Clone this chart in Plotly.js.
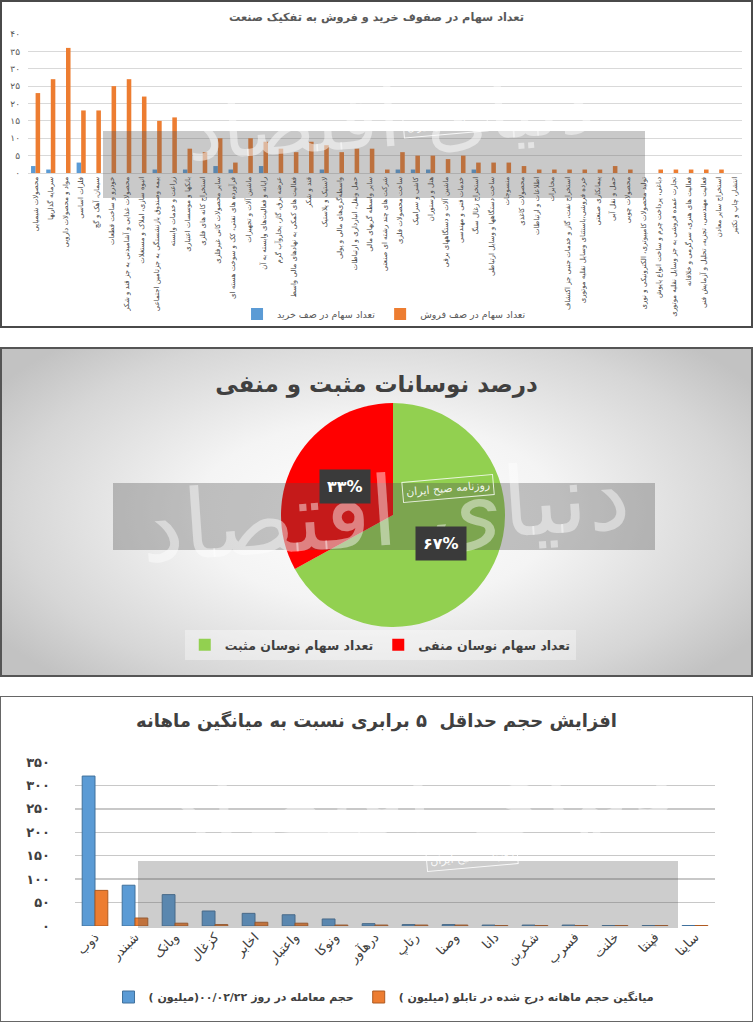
<!DOCTYPE html>
<html><head><meta charset="utf-8">
<script src="https://cdn.plot.ly/plotly-3.0.1.min.js"></script>
<style>
body{margin:0;background:#fff;width:753px;height:1024px;position:relative;overflow:hidden;font-family:"DejaVu Sans";}
.box{position:absolute;left:0;width:753px;}
.frame{position:absolute;left:0;width:753px;pointer-events:none;box-sizing:border-box;}
#c1{top:0;height:328px;}
#c2{top:347px;height:330px;background:radial-gradient(ellipse 60% 70% at 50% 50%, #ffffff 0%, #f4f4f4 40%, #d6d6d6 80%, #c2c2c2 100%);}
#c3{top:696px;height:326px;}
</style></head><body>
<div id="c1" class="box"></div>
<div class="frame" style="top:0;height:328px;border:2px solid #4a4a4a"></div>
<div id="c2" class="box"></div>
<div class="frame" style="top:347px;height:330px;border:2px solid #555"></div>
<div id="c3" class="box"></div>
<div class="frame" style="top:696px;height:326px;border:1.5px solid #666"></div>
<script>
// ---------- Chart 1 data ----------
const industries = [
"محصولات شیمیایی","سرمایه گذاریها","مواد و محصولات دارویی","فلزات اساسی","سیمان، آهک و گچ",
"خودرو و ساخت قطعات","محصولات غذایی و آشامیدنی به جز قند و شکر","انبوه سازی، املاک و مستغلات",
"بیمه وصندوق بازنشستگی به جزتامین اجتماعی","زراعت و خدمات وابسته","بانکها و موسسات اعتباری",
"استخراج کانه های فلزی","سایر محصولات کانی غیرفلزی","فرآورده های نفتی، کک و سوخت هسته ای",
"ماشین آلات و تجهیزات","رایانه و فعالیت‌های وابسته به آن","عرضه برق، گاز، بخاروآب گرم",
"فعالیت های کمکی به نهادهای مالی واسط","قند و شکر","لاستیک و پلاستیک","واسطه‌گری‌های مالی و پولی",
"حمل ونقل، انبارداری و ارتباطات","سایر واسطه گریهای مالی","شرکت های چند رشته ای صنعتی",
"ساخت محصولات فلزی","کاشی و سرامیک","هتل و رستوران","ماشین آلات و دستگاههای برقی",
"خدمات فنی و مهندسی","استخراج زغال سنگ","ساخت دستگاهها و وسایل ارتباطی","منسوجات",
"محصولات کاغذی","اطلاعات و ارتباطات","مخابرات","استخراج نفت، گاز و خدمات جنبی جز اکتشاف",
"خرده فروشی،باستثنای وسایل نقلیه موتوری","پیمانکاری صنعتی","حمل و نقل آبی","محصولات چوبی",
"تولید محصولات کامپیوتری، الکترونیکی و نوری","دباغی، پرداخت چرم و ساخت انواع پاپوش",
"تجارت عمده فروشی به جز وسایل نقلیه موتوری","فعالیت های هنری، سرگرمی و خلاقانه",
"فعالیت مهندسی، تجزیه، تحلیل و آزمایش فنی","استخراج سایر معادن","انتشار، چاپ و تکثیر"
];
const sellQueue = [23,27,36,18,18,25,27,22,15,16,7,6,10,3,10,9,7,6,9,8,6,7,7,1,6,5,5,4,5,3,3,3,2,1,1,1,1,1,2,1,0,1,1,1,1,1,0];
const buyQueue  = [2,1,0,3,0,0,0,0,1,0,1,0,2,1,0,2,0,0,0,1,0,0,0,0,1,1,1,0,0,1,0,0,0,0,0,0,0,0,0,0,0,0,0,0,0,0,0];
const c1TickVals = [0,5,10,15,20,25,30,35,40];
const c1TickText = ["۰","۵","۱۰","۱۵","۲۰","۲۵","۳۰","۳۵","۴۰"];
const c1Title = "تعداد سهام در صفوف خرید و فروش به تفکیک صنعت";
const c1SeriesNames = ["تعداد سهام در صف خرید","تعداد سهام در صف فروش"];

// ---------- Chart 2 data ----------
const pieLabels = ["تعداد سهام نوسان مثبت","تعداد سهام نوسان منفی"];
const pieValues = [67,33];
const pieText = ["۶۷%","۳۳%"];
const c2Title = "درصد نوسانات مثبت و منفی";

// ---------- Chart 3 data ----------
const tickers = ["ذوب","شبندر","وبانک","کزغال","اخابر","واعتبار","ونوکا","درهآور","رتاپ","وصنا","دانا","شکربن","فسرب","خلنت","فپنتا","ساینا"];
const volDay = [320,87,67,32,27,24,15,5,3,3,2,2,2,1,1,1];
const volAvg = [76,17,6,3,8,6,2,2,2,2,1,1,1,1,1,1];
const c3TickVals = [0,50,100,150,200,250,300,350];
const c3TickText = ["۰","۵۰","۱۰۰","۱۵۰","۲۰۰","۲۵۰","۳۰۰","۳۵۰"];
const c3Title = "افزایش حجم حداقل  ۵ برابری نسبت به میانگین ماهانه";
const c3SeriesNames = ["حجم معامله در روز ۰۰/۰۲/۲۲(میلیون )","میانگین حجم ماهانه درج شده در تابلو (میلیون )"];

const BLUE = "#5B9BD5", ORANGE = "#ED7D31";
const FONT = "DejaVu Sans";
const rtl = s => "\u202B" + s + "\u202C";
const cfg = {staticPlot:true, displayModeBar:false};
function conv(W,H,m){ return {x: p => (p-m.l)/(W-m.l-m.r), y: p => (H-m.b-p)/(H-m.t-m.b)}; }
const WM = "دنیای اقتصاد", WM2 = "روزنامه صبح ایران";

// ================= Chart 1 =================
(function(){
  const W=753,H=328,m={l:28,r:11,t:34,b:155,pad:0};
  const c=conv(W,H,m);
  Plotly.newPlot("c1",[
    {type:"bar",name:c1SeriesNames[0],x:industries,y:buyQueue,marker:{color:BLUE}},
    {type:"bar",name:c1SeriesNames[1],x:industries,y:sellQueue,marker:{color:ORANGE}}
  ],{
    width:W,height:H,margin:m,paper_bgcolor:"rgba(0,0,0,0)",plot_bgcolor:"rgba(0,0,0,0)",
    font:{family:FONT,color:"#595959"},
    title:{text:c1Title,x:0.5,xanchor:"center",y:1-17/H,yanchor:"middle",font:{size:11.3,weight:"bold",color:"#595959"}},
    barmode:"group",bargap:0.4,bargroupgap:0,
    xaxis:{type:"category",tickangle:-90,tickfont:{size:7,color:"#404040"},showline:true,linecolor:"#d9d9d9",ticks:"",automargin:false,showgrid:false},
    yaxis:{range:[0,40],tickvals:c1TickVals,ticktext:c1TickText,tickfont:{size:9,color:"#595959"},gridcolor:"#d9d9d9",zeroline:false,ticks:"",automargin:false,ticklabelstandoff:7},
    showlegend:true,
    legend:{orientation:"h",x:0.51,xanchor:"center",xref:"container",yref:"container",y:1-314/H,yanchor:"middle",font:{size:9.5,color:"#595959"},itemwidth:30,traceorder:"normal"},
    shapes:[{type:"rect",xref:"paper",yref:"paper",x0:c.x(103),x1:c.x(645),y0:c.y(131),y1:c.y(198),fillcolor:"rgba(90,90,90,0.33)",line:{width:0},layer:"above"}],
    annotations:[
      {xref:"paper",yref:"paper",x:c.x(390),y:c.y(118),text:WM,showarrow:false,font:{size:80,color:"rgba(255,255,255,0.5)",family:FONT},textangle:-4},
      {xref:"paper",yref:"paper",x:c.x(445),y:c.y(139),text:WM2,showarrow:false,font:{size:10,color:"rgba(255,255,255,0.9)",family:FONT},bordercolor:"rgba(255,255,255,0.85)",borderwidth:1,borderpad:3,textangle:-5}
    ]
  },cfg);
})();

// ================= Chart 2 =================
(function(){
  const W=753,H=330;
  const cx=393, cy=168, R=112;
  const total=pieValues.reduce((a,b)=>a+b,0);
  let start=90; const ann=[];
  pieValues.forEach((v,i)=>{
    const sweep=v/total*360, mid=start-sweep/2; start-=sweep;
    const px=cx+0.5*R*Math.cos(mid*Math.PI/180), py=cy-0.5*R*Math.sin(mid*Math.PI/180);
    ann.push({xref:"paper",yref:"paper",x:px/W,y:1-py/H,text:pieText[i],showarrow:false,
      font:{size:16,color:"#ffffff",family:FONT,weight:"bold"},bgcolor:"#3a3a3a",borderpad:7});
  });
  ann.unshift({xref:"paper",yref:"paper",x:385/W,y:1-165/H,text:WM,showarrow:false,font:{size:96,color:"rgba(255,255,255,0.45)",family:FONT},textangle:-4});
  ann.push({xref:"paper",yref:"paper",x:448/W,y:1-141/H,text:WM2,showarrow:false,font:{size:11,color:"rgba(255,255,255,0.9)",family:FONT},bordercolor:"rgba(255,255,255,0.8)",borderwidth:1,borderpad:3,textangle:-5});
  Plotly.newPlot("c2",[{
    type:"pie",labels:pieLabels,values:pieValues,sort:false,direction:"clockwise",rotation:0,
    marker:{colors:["#92D050","#FF0000"],line:{width:0}},textinfo:"none",
    domain:{x:[(cx-R)/W,(cx+R)/W],y:[1-(cy+R)/H,1-(cy-R)/H]}
  }],{
    width:W,height:H,margin:{l:0,r:0,t:0,b:0},paper_bgcolor:"rgba(0,0,0,0)",
    font:{family:FONT,color:"#404040"},
    title:{text:c2Title,x:0.5,xanchor:"center",y:1-37/H,yanchor:"middle",font:{size:23,weight:"bold",color:"#404040"}},
    showlegend:true,
    legend:{orientation:"h",x:0.505,xanchor:"center",y:1-298/H,yanchor:"middle",font:{size:12.5,weight:"bold",color:"#404040"},itemwidth:30,bgcolor:"rgba(255,255,255,0.35)"},
    shapes:[{type:"rect",xref:"paper",yref:"paper",x0:113/W,x1:655/W,y0:1-203/H,y1:1-136/H,fillcolor:"rgba(80,80,80,0.33)",line:{width:0},layer:"above"}],
    annotations:ann
  },cfg);
})();

// ================= Chart 3 =================
(function(){
  const W=753,H=326,m={l:75,r:38,t:66,b:96,pad:0};
  const c=conv(W,H,m);
  Plotly.newPlot("c3",[
    {type:"bar",name:rtl(c3SeriesNames[0]),x:tickers,y:volDay,marker:{color:BLUE,line:{color:"#41719C",width:1}}},
    {type:"bar",name:rtl(c3SeriesNames[1]),x:tickers,y:volAvg,marker:{color:ORANGE,line:{color:"#AE5A21",width:1}}}
  ],{
    width:W,height:H,margin:m,paper_bgcolor:"rgba(0,0,0,0)",plot_bgcolor:"rgba(0,0,0,0)",
    font:{family:FONT,color:"#404040"},
    title:{text:c3Title,x:0.5,xanchor:"center",y:1-25/H,yanchor:"middle",font:{size:18,weight:"bold",color:"#404040"}},
    barmode:"group",bargap:0.36,bargroupgap:0,
    xaxis:{type:"category",tickangle:-45,tickfont:{size:13,color:"#404040"},showline:false,ticks:"",automargin:false,showgrid:false},
    yaxis:{range:[0,350],tickvals:c3TickVals,ticktext:c3TickText,tickfont:{size:13,color:"#404040",weight:"bold"},gridcolor:"#c8c8c8",gridwidth:1.3,zeroline:false,ticks:"",automargin:false,ticklabelstandoff:24},
    showlegend:true,
    legend:{orientation:"h",x:0.51,xanchor:"center",xref:"container",yref:"container",y:1-301/H,yanchor:"middle",font:{size:11,weight:"bold",color:"#404040"},itemwidth:30,traceorder:"normal"},
    shapes:[{type:"rect",xref:"paper",yref:"paper",x0:c.x(138),x1:c.x(678),y0:c.y(232),y1:c.y(165),fillcolor:"rgba(90,90,90,0.3)",line:{width:0},layer:"above"}],
    annotations:[
      {xref:"paper",yref:"paper",x:c.x(420),y:c.y(180),text:WM,showarrow:false,font:{size:100,color:"rgba(255,255,255,0.45)",family:FONT},textangle:-4},
      {xref:"paper",yref:"paper",x:c.x(472),y:c.y(176),text:WM2,showarrow:false,font:{size:11,color:"rgba(255,255,255,0.9)",family:FONT},bordercolor:"rgba(255,255,255,0.85)",borderwidth:1,borderpad:3,textangle:-5}
    ]
  },cfg);
})();
</script>
</body></html>
